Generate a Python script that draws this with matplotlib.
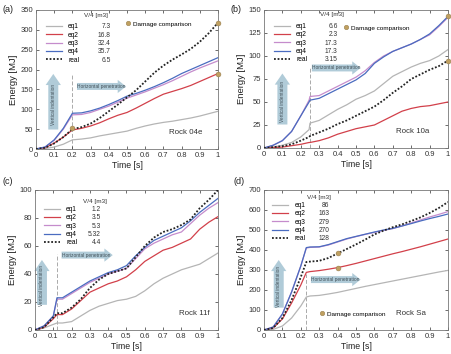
import numpy as np
import matplotlib.pyplot as plt
from matplotlib.lines import Line2D

plt.rcParams['font.family'] = ['Liberation Sans', 'DejaVu Sans']

# ---- data ----
series_names = ['eq1', 'eq2', 'eq3', 'eq4', 'real']

t_a = [0, 0.05, 0.1, 0.15, 0.2, 0.25, 0.3, 0.35, 0.4, 0.45, 0.5, 0.55, 0.6, 0.65, 0.7, 0.75, 0.8, 0.85, 0.9, 0.95, 1.0]
eq1_a = [0, 1, 5, 12, 23, 25, 28, 33, 37, 41, 45, 52, 58, 63, 67, 70, 74, 78, 83, 89, 95]
eq2_a = [0, 3, 15, 30, 48, 52, 58, 66, 76, 85, 92, 103, 115, 127, 138, 145, 152, 160, 170, 180, 190]
eq3_a = [0, 5, 22, 50, 86, 87, 92, 100, 108, 118, 128, 136, 144, 153, 162, 172, 183, 194, 204, 213, 222]
eq4_a = [0, 5, 23, 52, 90, 91, 96, 103, 112, 122, 133, 140, 148, 157, 167, 178, 190, 200, 210, 220, 230]
real_a = [0, 3, 14, 30, 50, 55, 64, 78, 95, 112, 130, 148, 170, 192, 210, 225, 238, 252, 270, 292, 318]
vol_a = ['7.3', '16.8', '32.4', '35.7', '6.5']
dmg_t_a = [1.0, 1.0, 0.2]
dmg_e_a = [318, 190, 52]

t_b = [0, 0.05, 0.1, 0.15, 0.2, 0.245, 0.25, 0.3, 0.35, 0.4, 0.45, 0.5, 0.55, 0.6, 0.65, 0.7, 0.75, 0.8, 0.85, 0.9, 0.95, 1.0]
eq1_b = [0, 1, 3, 6, 12, 20, 27, 30, 36, 42, 47, 53, 57, 62, 70, 78, 83, 88, 92, 95, 100, 107]
eq2_b = [0, 0.5, 1, 2.5, 4, 6, 6, 8, 11, 15, 18, 21, 23, 25, 30, 35, 40, 43, 45, 46, 48, 50]
eq3_b = [0, 3, 8, 18, 35, 52, 56, 57, 62, 67, 72, 77, 84, 93, 100, 105, 109, 113, 118, 123, 132, 142]
eq4_b = [0, 3, 8, 18, 35, 50, 52, 54, 59, 64, 69, 74, 81, 92, 99, 105, 109, 113, 118, 124, 133, 143]
real_b = [0, 1, 2, 4, 8, 12, 13, 17, 21, 26, 30, 35, 40, 45, 52, 60, 67, 75, 80, 85, 89, 95]
vol_b = ['6.6', '2.3', '17.3', '17.3', '3.15']
dmg_t_b = [1.0, 1.0]
dmg_e_b = [143, 95]

t_c = [0, 0.05, 0.1, 0.12, 0.15, 0.2, 0.25, 0.3, 0.35, 0.4, 0.45, 0.5, 0.55, 0.6, 0.65, 0.7, 0.75, 0.8, 0.85, 0.9, 0.95, 1.0]
eq1_c = [0, 1.5, 4, 5, 5, 6, 10, 14, 17, 19, 21, 22, 24, 28, 33, 37, 40, 43, 45, 47, 51, 55]
eq2_c = [0, 2, 8, 11, 11, 15, 21, 27, 30, 33, 35, 38, 43, 49, 53, 57, 59, 62, 65, 72, 77, 81]
eq3_c = [0, 3, 10, 22, 22, 26, 30, 34, 37, 40, 42, 44, 51, 58, 62, 65, 68, 70, 76, 82, 87, 91]
eq4_c = [0, 3, 10, 23, 23, 27, 31, 35, 38, 41, 43, 46, 53, 59, 64, 67, 70, 73, 78, 84, 89, 94]
real_c = [0, 2, 9, 12, 12, 16, 22, 30, 36, 40, 42, 44, 52, 60, 66, 70, 72, 75, 79, 87, 93, 100]
vol_c = ['1.2', '3.5', '5.3', '5.32', '4.4']

t_d = [0, 0.05, 0.1, 0.15, 0.2, 0.23, 0.25, 0.3, 0.35, 0.4, 0.45, 0.5, 0.55, 0.6, 0.65, 0.7, 0.75, 0.8, 0.85, 0.9, 0.95, 1.0]
eq1_d = [0, 3, 20, 60, 120, 165, 170, 173, 180, 188, 198, 208, 218, 227, 236, 245, 254, 263, 272, 281, 290, 298]
eq2_d = [0, 10, 55, 135, 225, 288, 292, 297, 304, 312, 322, 333, 345, 357, 369, 381, 392, 404, 416, 429, 442, 455]
eq3_d = [0, 15, 80, 190, 320, 410, 413, 415, 425, 440, 455, 467, 478, 488, 498, 507, 520, 535, 550, 565, 578, 592]
eq4_d = [0, 15, 80, 190, 320, 412, 415, 416, 427, 442, 457, 468, 479, 490, 500, 508, 520, 532, 545, 557, 568, 580]
real_d = [0, 10, 60, 150, 265, 340, 342, 346, 360, 383, 405, 428, 452, 478, 497, 514, 528, 545, 563, 585, 610, 640]
vol_d = ['86', '163', '279', '270', '128']
dmg_t_d = [0.4, 0.4]
dmg_e_d = [383, 312]

colors = ['#b5b5b5', '#d2404a', '#c58ccc', '#4a6cc0', '#222222']
arrow_col = '#a8c6d4'
dmg_col = '#c0a060'

panels = [
    dict(tag='(a)', rock='Rock 04e', t=t_a, ys=[eq1_a, eq2_a, eq3_a, eq4_a, real_a], vol=vol_a,
         ymax=350, ystep=50, split=0.2, split_top=0.53, dmg=(dmg_t_a, dmg_e_a),
         dmg_leg=(0.49, 0.90), varrow=(0.095, 0.12, 0.56), harrow=(0.21, 0.51, 0.45),
         rock_pos=(0.82, 0.12), leg=(0.055, 0.905), head=(0.33, 0.96), val_x=0.41),
    dict(tag='(b)', rock='Rock 10a', t=t_b, ys=[eq1_b, eq2_b, eq3_b, eq4_b, real_b], vol=vol_b,
         ymax=150, ystep=25, split=0.25, split_top=0.59, dmg=(dmg_t_b, dmg_e_b),
         dmg_leg=(0.43, 0.87), varrow=(0.10, 0.15, 0.56), harrow=(0.245, 0.54, 0.58),
         rock_pos=(0.81, 0.12), leg=(0.055, 0.905), head=(0.37, 0.965), val_x=0.40),
    dict(tag='(c)', rock='Rock 11f', t=t_c, ys=[eq1_c, eq2_c, eq3_c, eq4_c, real_c], vol=vol_c,
         ymax=100, ystep=20, split=0.12, split_top=0.54, dmg=None,
         dmg_leg=None, varrow=(0.038, 0.16, 0.52), harrow=(0.13, 0.44, 0.535),
         rock_pos=(0.87, 0.115), leg=(0.05, 0.885), head=(0.33, 0.915), val_x=0.36),
    dict(tag='(d)', rock='Rock Sa', t=t_d, ys=[eq1_d, eq2_d, eq3_d, eq4_d, real_d], vol=vol_d,
         ymax=700, ystep=100, split=0.23, split_top=0.40, dmg=(dmg_t_d, dmg_e_d),
         dmg_leg=(0.30, 0.115), varrow=(0.08, 0.14, 0.52), harrow=(0.24, 0.54, 0.36),
         rock_pos=(0.80, 0.115), leg=(0.045, 0.915), head=(0.30, 0.943), val_x=0.355),
]

fig = plt.figure(figsize=(4.52, 3.54), dpi=100)
# axes boxes in figure fractions (left, bottom, width, height)
boxes = [(36/452, 1-149/354, 182/452, 139/354),
         (264/452, 1-148/354, 184/452, 138/354),
         (35/452, 1-330/354, 183/452, 140/354),
         (264/452, 1-330/354, 184/452, 140/354)]
tag_pos = [(3/452, 1-10/354), (231/452, 1-10/354), (3/452, 1-182/354), (234/452, 1-182/354)]

v_style = 'simple,head_length=0.8,head_width=1.1,tail_width=0.72'
h_style = 'simple,head_length=0.6,head_width=0.95,tail_width=0.5'

legends = []
for p, box, tp in zip(panels, boxes, tag_pos):
    ax = fig.add_axes(box)
    handles = []
    for name, y, c in zip(series_names, p['ys'], colors):
        if name == 'real':
            h, = ax.plot(p['t'], y, color=c, lw=1.3, ls=(0, (1, 1)), zorder=4)
        else:
            h, = ax.plot(p['t'], y, color=c, lw=0.9, zorder=3)
        handles.append(h)

    ax.axvline(p['split'], ymax=p['split_top'], color='#aaaaaa', lw=0.7, ls=(0, (4, 2)), zorder=1)

    if p['dmg'] is not None:
        ax.scatter(p['dmg'][0], p['dmg'][1], s=12, color=dmg_col, edgecolor='#9a8050',
                   lw=0.4, zorder=6, clip_on=False)
        mh = Line2D([], [], ls='none', marker='o', ms=3.2, color=dmg_col, mec='#9a8050', mew=0.4)
        leg2 = ax.legend([mh], ['Damage comparison'], loc='center left',
                         bbox_to_anchor=p['dmg_leg'], frameon=False, fontsize=4.6,
                         handletextpad=0.4, borderpad=0, borderaxespad=0, handlelength=0.8)
        ax.add_artist(leg2)

    leg = ax.legend(handles, series_names, loc='upper left',
                    bbox_to_anchor=p['leg'], frameon=False, fontsize=4.8, labelspacing=0.2,
                    handlelength=2.4, handletextpad=0.9, borderpad=0, borderaxespad=0)
    legends.append((ax, leg, p))
    ax.text(p['head'][0], p['head'][1], 'V/4 [m3]', transform=ax.transAxes,
            fontsize=4.6, ha='center', va='center', color='#333333')

    # process arrows
    vx, vy0, vy1 = p['varrow']
    ax.annotate('', xy=(vx, vy1), xytext=(vx, vy0), xycoords='axes fraction',
                arrowprops=dict(arrowstyle=v_style, mutation_scale=10, fc=arrow_col,
                                ec='none', alpha=0.9), zorder=2)
    ax.text(vx, (vy0 + vy1) / 2 - 0.02, 'Vertical indentation', transform=ax.transAxes,
            rotation=90, fontsize=3.4, ha='center', va='center', color='#44525a', zorder=5)
    hx0, hx1, hy = p['harrow']
    ax.annotate('', xy=(hx1, hy), xytext=(hx0, hy), xycoords='axes fraction',
                arrowprops=dict(arrowstyle=h_style, mutation_scale=10, fc=arrow_col,
                                ec='none', alpha=0.9), zorder=2)
    ax.text(hx0 + 0.015, hy, 'Horizontal penetration', transform=ax.transAxes,
            fontsize=3.5, ha='left', va='center', color='#44525a', zorder=5)

    ax.text(p['rock_pos'][0], p['rock_pos'][1], p['rock'], transform=ax.transAxes,
            fontsize=5.7, ha='center', va='center', color='#333333')
    fig.text(tp[0], tp[1], p['tag'], fontsize=6.5, ha='left', va='center', color='#222222')

    ax.set_xlim(0, 1)
    ax.set_ylim(0, p['ymax'])
    ax.set_xticks(np.arange(0, 1.01, 0.1))
    ax.set_xticklabels(['0'] + ['%.1f' % v for v in np.arange(0.1, 0.95, 0.1)] + ['1'])
    ax.set_yticks(np.arange(0, p['ymax'] + 1, p['ystep']))
    ax.tick_params(direction='in', top=True, right=True, labelsize=5.5, length=2.5,
                   width=0.5, pad=2, colors='#333333')
    for s in ax.spines.values():
        s.set_linewidth(0.6)
        s.set_color('#777777')
    ax.set_xlabel('Time [s]', fontsize=6.3, labelpad=1.5, color='#222222')
    ax.set_ylabel('Energy [MJ]', fontsize=6.8, labelpad=2, color='#222222')

# volume column, right aligned and lined up with the legend rows
fig.canvas.draw()
for ax, leg, p in legends:
    inv = ax.transAxes.inverted()
    for txt, val in zip(leg.get_texts(), p['vol']):
        bb = txt.get_window_extent()
        yc = inv.transform((0, (bb.y0 + bb.y1) / 2))[1]
        ax.text(p['val_x'], yc, val, transform=ax.transAxes, fontsize=4.8,
                ha='right', va='center', color='#333333')

fig.savefig('out.png', dpi=100)
